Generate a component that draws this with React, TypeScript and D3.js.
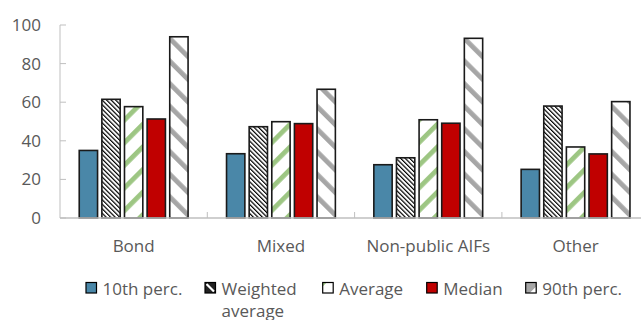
import React from "react";
import * as d3 from "d3";

const categories = ["Bond", "Mixed", "Non-public AIFs", "Other"];
const seriesNames = ["10th perc.", "Weighted average", "Average", "Median", "90th perc."];
const p10 = [35, 33.3, 27.6, 25.2];
const weighted = [61.5, 47.3, 31.2, 58];
const average = [57.7, 49.9, 50.9, 36.8];
const median = [51.3, 48.9, 49.1, 33.2];
const p90 = [93.9, 66.7, 93.1, 60.3];
const yTicks = [0, 20, 40, 60, 80, 100];

const seriesValues = [p10, weighted, average, median, p90];
const fills = ["#4a87a8", "url(#hatch)", "url(#green)", "#c00000", "url(#gray)"];
const legendX = [86, 205, 322.7, 426.7, 525.7];
const legendLines = [["10th perc."], ["Weighted", "average"], ["Average"], ["Median"], ["90th perc."]];

export default function App() {
  const W = 641, H = 320;
  const left = 60, top = 25, bottom = 218;
  const catW = 147.3;
  const x0 = d3.scaleBand<string>().domain(categories).range([left, left + catW * categories.length]).padding(0);
  const x1 = d3.scaleBand<number>().domain(d3.range(seriesNames.length)).range([0, x0.bandwidth()]).paddingInner(0.19).paddingOuter(0.85);
  const y = d3.scaleLinear().domain([0, 100]).range([bottom, top]);
  const txt = "#595959";
  const font = "'Open Sans', sans-serif";
  const axisColor = "#bfbfbf";
  const sw = 10.5;
  const ly = 282.5;

  return (
    <svg width={W} height={H} style={{ position: "absolute", left: 0, top: 0, background: "#fff" }} fontFamily={font}>
      <defs>
        <pattern id="hatch" patternUnits="userSpaceOnUse" width={3.2} height={3.2} patternTransform="rotate(-45)">
          <rect width={3.2} height={3.2} fill="#fff" />
          <rect width={1.2} height={3.2} fill="#000" />
        </pattern>
        <pattern id="green" patternUnits="userSpaceOnUse" width={16} height={16} patternTransform="rotate(45)">
          <rect width={16} height={16} fill="#fff" />
          <rect width={4.8} height={16} fill="#9dc683" />
        </pattern>
        <pattern id="gray" patternUnits="userSpaceOnUse" width={16} height={16} patternTransform="rotate(-45)">
          <rect width={16} height={16} fill="#fff" />
          <rect width={4.8} height={16} fill="#a6a6a6" />
        </pattern>
      </defs>
      <rect width={W} height={H} fill="#fff" />
      <line x1={left} x2={left} y1={top} y2={bottom} stroke={axisColor} strokeWidth={1} />
      {yTicks.map((t) => (
        <g key={t}>
          <line x1={left} x2={left + 6} y1={y(t)} y2={y(t)} stroke={axisColor} />
          <text x={41} y={y(t)} dy="0.35em" textAnchor="end" fontSize={17} fill={txt}>{t}</text>
        </g>
      ))}
      {categories.map((c, ci) => (
        <g key={c} transform={`translate(${x0(c)},0)`}>
          {seriesValues.map((vals, si) => (
            <rect key={si} x={x1(si)} y={y(vals[ci])} width={x1.bandwidth()} height={bottom - y(vals[ci])}
              fill={fills[si]} stroke="#1a1a1a" strokeWidth={1.6} />
          ))}
        </g>
      ))}
      <line x1={left} x2={W} y1={bottom} y2={bottom} stroke={axisColor} strokeWidth={1.5} />
      {categories.map((c, i) => (
        <line key={"t" + i} x1={x0(c)! + catW} x2={x0(c)! + catW} y1={bottom - 6} y2={bottom} stroke={axisColor} />
      ))}
      {categories.map((c) => (
        <text key={"l" + c} x={x0(c)! + x0.bandwidth() / 2} y={252} textAnchor="middle" fontSize={17} fill={txt}>{c}</text>
      ))}
      {seriesNames.map((s, i) => {
        const lx = legendX[i];
        return (
          <g key={s}>
            <rect x={lx} y={ly} width={sw} height={sw} fill={i === 4 ? "#a6a6a6" : i === 1 ? "#222" : i === 2 ? "#fff" : fills[i]} />
            {i === 1 && <line x1={lx + 1.5} y1={ly + 1.5} x2={lx + sw - 1.5} y2={ly + sw - 1.5} stroke="#fff" strokeWidth={2.2} />}
            {i === 2 && <path d={`M${lx},${ly} L${lx + 4},${ly} L${lx},${ly + 4} Z`} fill="#9dc683" />}
            {i === 4 && <path d={`M${lx + sw},${ly + sw} L${lx + 4},${ly + sw} L${lx + sw},${ly + 4} Z`} fill="#fff" />}
            <rect x={lx} y={ly} width={sw} height={sw} fill="none" stroke="#000" strokeWidth={1.2} />
            {legendLines[i].map((ln, li) => (
              <text key={li} x={lx + 16.5} y={295 + li * 21.5} fontSize={17} fill={txt}>{ln}</text>
            ))}
          </g>
        );
      })}
    </svg>
  );
}
